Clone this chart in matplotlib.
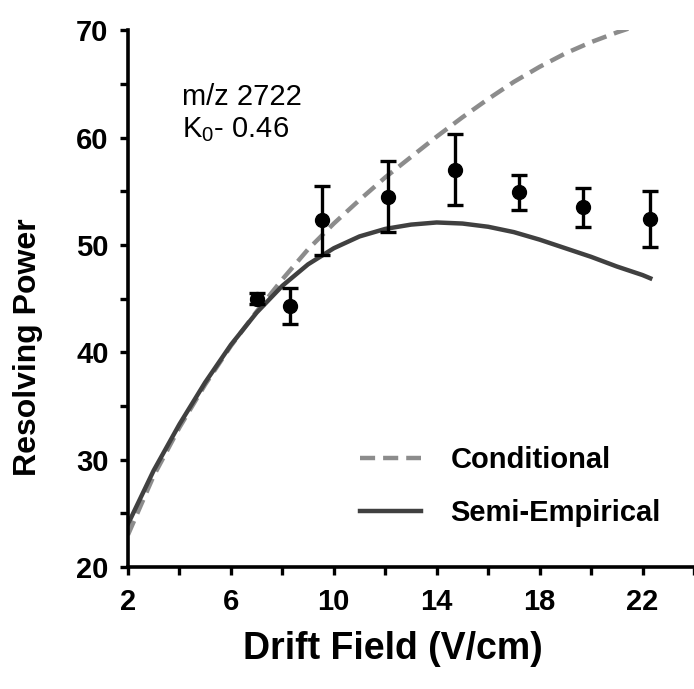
import matplotlib
matplotlib.use("Agg")
from matplotlib import pyplot as plt
from matplotlib.ticker import MultipleLocator

plt.rcParams['font.family'] = ['Liberation Sans', 'DejaVu Sans']
plt.rcParams['mathtext.fontset'] = 'custom'
plt.rcParams['mathtext.rm'] = 'Liberation Sans'
plt.rcParams['mathtext.it'] = 'Liberation Sans'

# measured points
field = [7.0, 8.3, 9.55, 12.1, 14.7, 17.2, 19.7, 22.3]
power = [45.0, 44.3, 52.3, 54.5, 57.0, 54.9, 53.5, 52.4]
power_err = [0.5, 1.7, 3.2, 3.3, 3.3, 1.6, 1.8, 2.6]

# model curves
conditional_x = [2, 3, 4, 5, 6, 7, 8, 9, 10, 11, 12, 13, 14, 15, 16, 17, 18, 19, 20, 21, 22]
conditional_y = [23.0, 28.5, 33.0, 37.0, 40.6, 43.8, 46.8, 49.6, 52.0, 54.2, 56.3, 58.2,
                 60.1, 61.9, 63.6, 65.2, 66.6, 67.85, 68.9, 69.8, 70.6]

semi_x = [2, 3, 4, 5, 6, 7, 8, 9, 10, 11, 12, 13, 14, 15, 16, 17, 18, 19, 20, 21, 22, 22.3]
semi_y = [24.0, 29.0, 33.3, 37.2, 40.7, 43.7, 46.2, 48.2, 49.7, 50.8, 51.5, 51.9, 52.1,
          52.0, 51.7, 51.2, 50.5, 49.7, 48.9, 48.0, 47.2, 46.9]

fig = plt.figure(figsize=(6.94, 6.89), dpi=100)
ax = fig.add_axes([0.1844, 0.177, 0.8156, 0.779])

ax.plot(conditional_x, conditional_y, color="#8c8c8c", lw=3.2, ls=(0, (3.4, 1.8)),
        label="Conditional")
ax.plot(semi_x, semi_y, color="#404040", lw=3.2, label="Semi-Empirical")
ax.errorbar(field, power, yerr=power_err, fmt="o", color="black", ms=10,
            elinewidth=2.4, capsize=6, capthick=2.4, zorder=5)

ax.set_xlim(2, 24)
ax.set_ylim(20, 70)
ax.xaxis.set_major_locator(MultipleLocator(4, offset=2))
ax.xaxis.set_minor_locator(MultipleLocator(2))
ax.yaxis.set_major_locator(MultipleLocator(10))
ax.yaxis.set_minor_locator(MultipleLocator(5))

for side in ["top", "right"]:
    ax.spines[side].set_visible(False)
for side in ["left", "bottom"]:
    ax.spines[side].set_linewidth(2.6)
ax.tick_params(which="both", direction="out", length=6, width=2.4, labelsize=21)
ax.tick_params(axis="x", pad=9)
ax.tick_params(axis="y", pad=8)
for lab in ax.get_xticklabels() + ax.get_yticklabels():
    lab.set_fontweight("bold")

ax.set_xlabel("Drift Field (V/cm)", fontsize=27, fontweight="bold")
ax.xaxis.set_label_coords(0.468, -0.12)
ax.set_ylabel("Resolving Power", fontsize=23, fontweight="bold")
ax.yaxis.set_label_coords(-0.15, 0.41)

ax.text(0.095, 0.875, "m/z 2722", transform=ax.transAxes,
        fontsize=21, va="center", ha="left")
ax.text(0.095, 0.815, "K$_0$- 0.46", transform=ax.transAxes,
        fontsize=21, va="center", ha="left")

ax.legend(loc="lower left", bbox_to_anchor=(0.41, 0.075), frameon=False,
          prop={"size": 21, "weight": "bold"}, handlelength=2.1,
          handletextpad=1.0, labelspacing=0.85, borderpad=0, borderaxespad=0)

fig.savefig("out.png", dpi=100)
